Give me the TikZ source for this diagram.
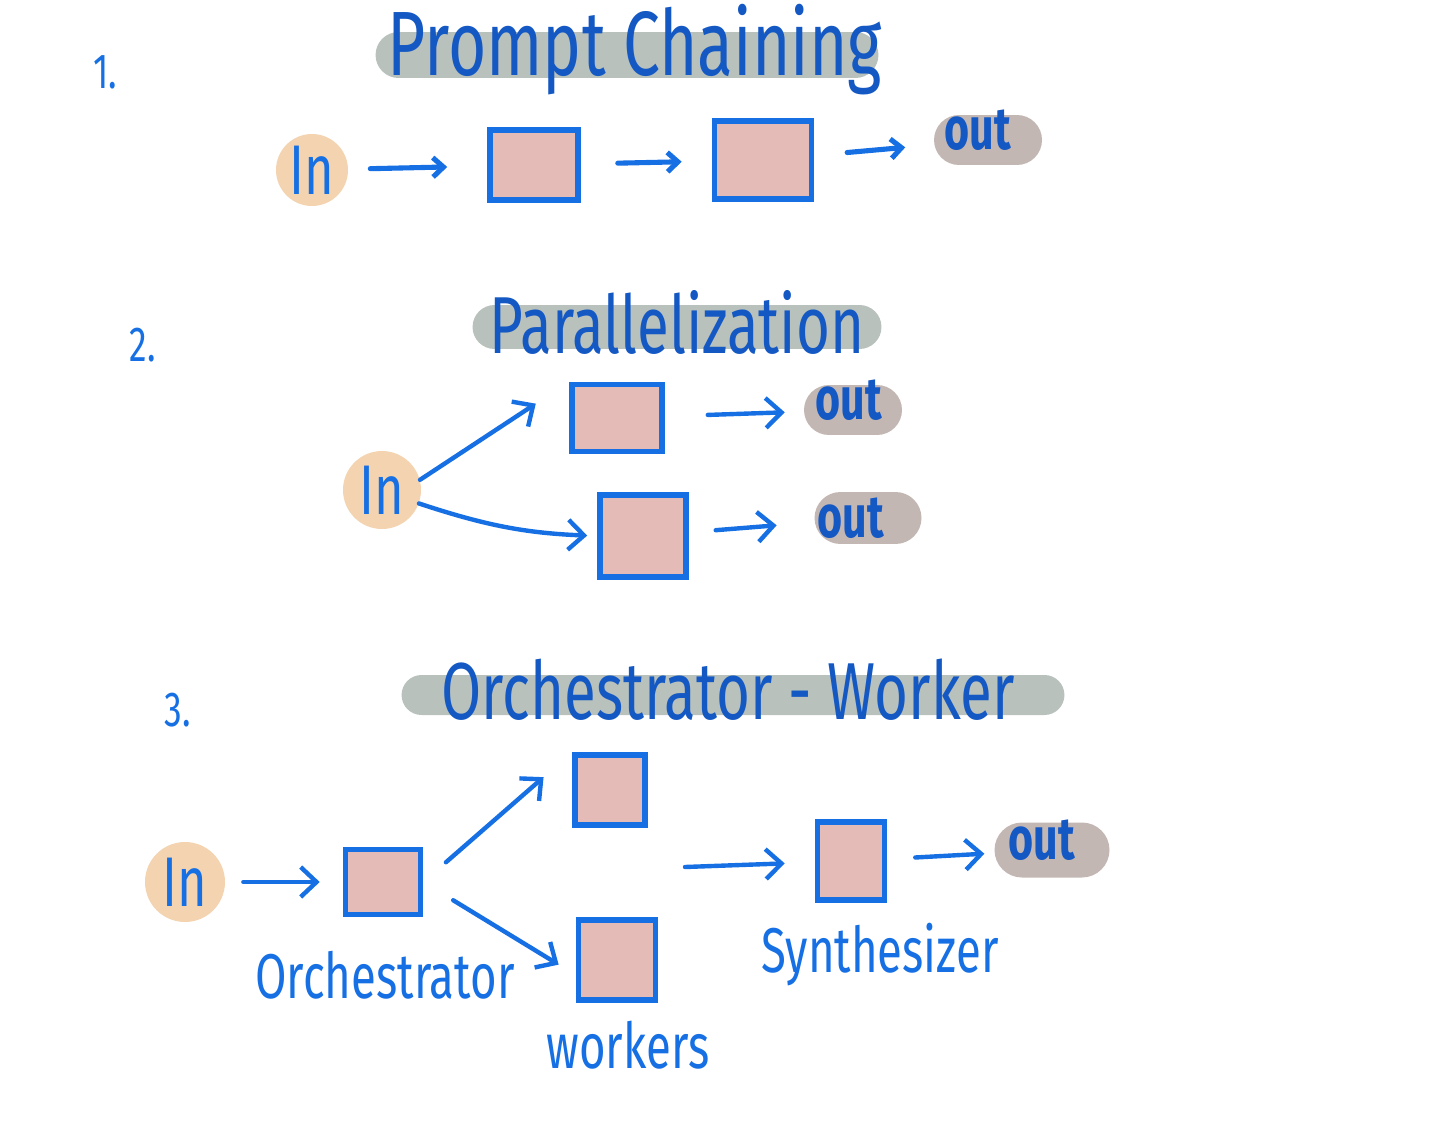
\documentclass[tikz,border=0pt]{standalone}
\usepackage{fontspec}
\setmainfont[FakeStretch=0.72]{Fira Sans}
\usetikzlibrary{arrows.meta,shapes.misc}
\definecolor{inkblue}{HTML}{1670E4}
\definecolor{deepblue}{HTML}{1458C4}
\definecolor{inpeach}{HTML}{F3D3B0}
\definecolor{stagepink}{HTML}{E5BBB8}
\definecolor{bargray}{HTML}{B8C1BB}
\definecolor{outtaupe}{HTML}{C3B7B3}
\begin{document}
\begin{tikzpicture}[x=0.02cm, y=-0.02cm,
  stage/.style={draw=inkblue, fill=stagepink, line width=3.2pt, inner sep=0pt},
  inblob/.style={circle, fill=inpeach, inner sep=0pt},
  outblob/.style={rounded rectangle, fill=outtaupe, inner sep=0pt},
  titlebar/.style={rounded rectangle, fill=bargray, inner sep=0pt},
  hand/.style={text=inkblue, inner sep=0pt},
  outtext/.style={text=deepblue, inner sep=0pt, font=\bfseries\fontsize{34}{36}\selectfont},
  flow/.style={draw=inkblue, line width=2.5pt, line cap=round, -{Straight Barb[length=9pt, width=17pt]}},
  shortflow/.style={draw=inkblue, line width=2.9pt, line cap=round, -{Straight Barb[length=6pt, width=11pt]}}
]
\fill[white] (0,0) rectangle (1456,1125);
\useasboundingbox (0,0) rectangle (1456,1125);

% 1. prompt chaining
\node[hand, font=\fontsize{28}{30}\selectfont] (num1) at (105,72) {1.};
\node[titlebar, minimum width=10.06cm, minimum height=0.92cm,
  label={[hand, text=deepblue, font=\fontsize{52}{56}\selectfont, xshift=0.16cm, yshift=0.1cm]center:Prompt Chaining}] (bar1) at (627,55) {};
\node[inblob, minimum size=1.44cm, label={[hand, font=\fontsize{40}{44}\selectfont]center:In}] (in1) at (312,170) {};
\node[stage, minimum width=1.76cm, minimum height=1.4cm] (p1) at (534,165) {};
\node[stage, minimum width=1.94cm, minimum height=1.56cm] (p2) at (763,160) {};
\node[outblob, minimum width=2.16cm, minimum height=1cm,
  label={[outtext, xshift=-0.2cm, yshift=0.2cm]center:out}] (o1) at (988,140) {};
\draw[shortflow, shorten <=0.44cm, shorten >=0.8cm] (in1) -- (p1);
\draw[shortflow, shorten <=0.74cm, shorten >=0.6cm] (p1) -- (p2);
\draw[shortflow, shorten <=0.66cm, shorten >=0.58cm] (p2) -- (o1);

% 2. parallelization
\node[hand, font=\fontsize{28}{30}\selectfont] (num2) at (143,345) {2.};
\node[titlebar, minimum width=8.18cm, minimum height=0.88cm,
  label={[hand, text=deepblue, font=\fontsize{46}{50}\selectfont, yshift=0.1cm]center:Parallelization}] (bar2) at (677,327) {};
\node[inblob, minimum size=1.56cm, label={[hand, font=\fontsize{40}{44}\selectfont]center:In}] (in2) at (382,490) {};
\node[stage, minimum width=1.8cm, minimum height=1.34cm] (q1) at (617,418) {};
\node[stage, minimum width=1.72cm, minimum height=1.64cm] (q2) at (643,536) {};
\node[outblob, minimum width=1.96cm, minimum height=1cm,
  label={[outtext, xshift=-0.08cm, yshift=0.2cm]center:out}] (o2a) at (853,410) {};
\node[outblob, minimum width=2.14cm, minimum height=1.04cm,
  label={[outtext, xshift=-0.34cm]center:out}] (o2b) at (868,518) {};
\draw[flow, shorten >=0.8cm] (in2.15) -- (q1.north west);
\draw[flow, shorten >=0.2cm] (in2.-20) to[bend right=8] (q2.west);
\draw[flow, shorten <=0.86cm, shorten >=0.38cm] (q1) -- (o2a);
\draw[flow, shorten <=0.54cm, shorten >=0.76cm] (q2) -- (o2b);

% 3. orchestrator - worker
\node[hand, font=\fontsize{28}{30}\selectfont] (num3) at (178,710) {3.};
\node[titlebar, minimum width=13.26cm, minimum height=0.8cm,
  label={[hand, text=deepblue, font=\fontsize{46}{50}\selectfont, xshift=-0.1cm, yshift=0.1cm]center:Orchestrator - Worker}] (bar3) at (733,695) {};
\node[inblob, minimum size=1.6cm, label={[hand, font=\fontsize{40}{44}\selectfont]center:In}] (in3) at (185,882) {};
\node[stage, minimum width=1.5cm, minimum height=1.3cm] (orch) at (383,882) {};
\node[stage, minimum width=1.4cm, minimum height=1.4cm] (w1) at (610,790) {};
\node[stage, minimum width=1.54cm, minimum height=1.6cm] (w2) at (617,960) {};
\node[stage, minimum width=1.34cm, minimum height=1.56cm] (syn) at (851,861) {};
\node[outblob, minimum width=2.3cm, minimum height=1.1cm,
  label={[outtext, xshift=-0.2cm, yshift=0.2cm]center:out}] (o3) at (1052,850) {};
\node[hand, font=\fontsize{36}{40}\selectfont] (orchlab) at (385,975) {Orchestrator};
\node[hand, font=\fontsize{36}{40}\selectfont] (worklab) at (628,1045) {workers};
\node[hand, font=\fontsize{36}{40}\selectfont] (synlab) at (880,955) {Synthesizer};
\coordinate (merge) at (685,867);
\draw[flow, shorten <=0.36cm, shorten >=0.46cm] (in3) -- (orch);
\draw[flow, shorten <=0.6cm, shorten >=0.76cm] (orch.east) -- (w1.north west);
\draw[flow, shorten <=0.7cm, shorten >=0.4cm] (orch.east) -- (w2.200);
\draw[flow, shorten >=0.6cm] (merge) -- (syn);
\draw[flow, shorten <=0.56cm, shorten >=0.2cm] (syn) -- (o3);
\end{tikzpicture}
\end{document}
